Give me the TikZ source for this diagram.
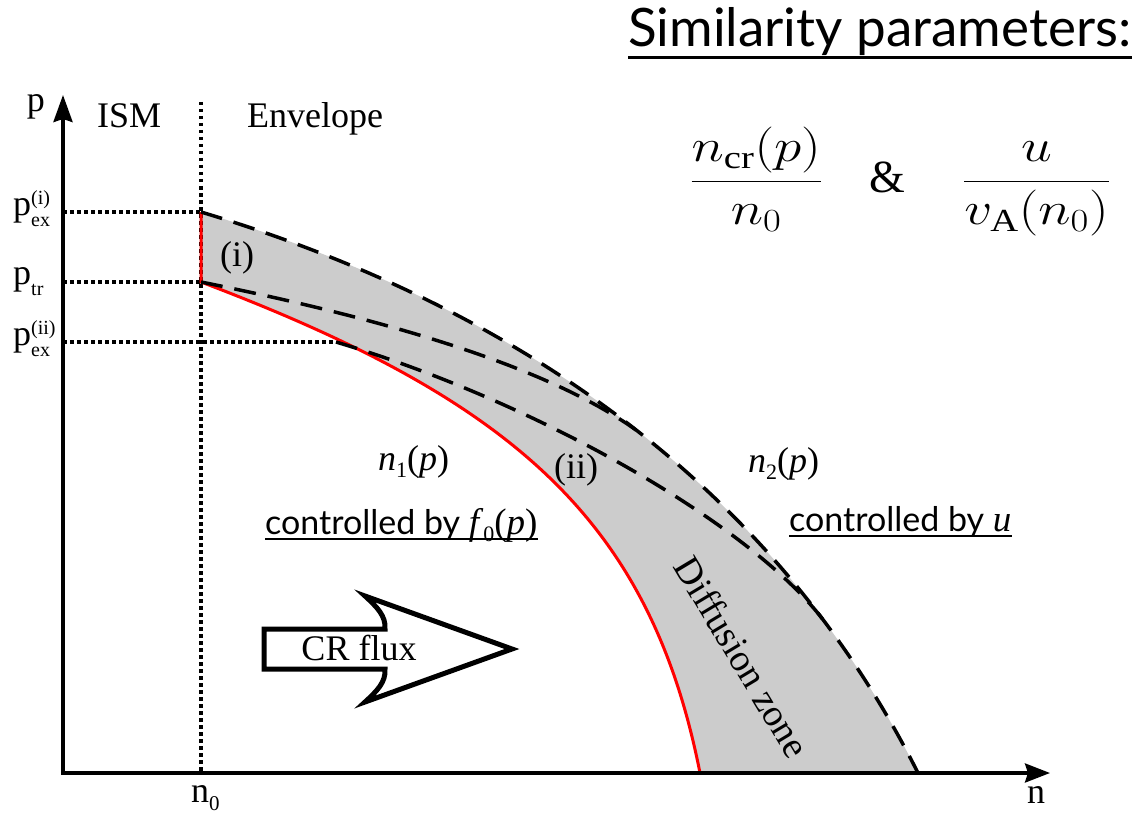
\documentclass[tikz,border=0pt]{standalone}
\usepackage{fix-cm}
\usepackage{amsmath}
\usepackage{graphicx}
\usepackage{fontspec}
\setmainfont{Liberation Serif}
\newfontfamily\optfont{Lato}
\usetikzlibrary{arrows.meta}
\definecolor{zonegray}{HTML}{CCCCCC}
\newcommand\smallfs{\fontsize{20}{20}\selectfont}
\newcommand\plab[2]{p\makebox[0pt][l]{\raisebox{11pt}{\smallfs #1}}\raisebox{-11pt}{\smallfs #2}}
\newcommand\lowsub[1]{\raisebox{-7pt}{\fontsize{22}{22}\selectfont #1}}
\tikzset{
  axisline/.style={line width=3.5pt, line join=miter},
  dotline/.style={line width=3.5pt, dash pattern=on 3.5pt off 3.5pt},
  dashline/.style={line width=3.5pt, dash pattern=on 22pt off 12pt},
  redline/.style={line width=3pt, red},
  lbl/.style={font=\fontsize{36}{43}\selectfont, inner sep=0pt},
  ctl/.style={font=\optfont\fontsize{34}{40}\selectfont, inner sep=0pt},
  titlef/.style={font=\optfont\fontsize{53}{60}\selectfont, inner sep=0pt},
  uline/.style={line width=2.7pt}
}
\begin{document}
\begin{tikzpicture}[x=1pt,y=-1pt]
\useasboundingbox (0,0) rectangle (1142,813);
% key points
\coordinate (O) at (63,773);
\coordinate (ytip) at (63,95);
\coordinate (xtip) at (1050,773);
\coordinate (n0top) at (201,102);
\coordinate (n0bot) at (201,773);
\coordinate (Pex1) at (201,212);
\coordinate (Ptr) at (201,282);
\coordinate (Pex2) at (336,342);
\coordinate (Rend) at (700,773);
\coordinate (Oend) at (918,773);
\coordinate (Mjoin) at (636,430);
\coordinate (Ijoin) at (824,621);
\coordinate (Ay1) at (63,212);
\coordinate (Ay2) at (63,282);
\coordinate (Ay3) at (63,342);
% diffusion zone
\fill[zonegray] (Pex1) -- (Ptr) .. controls (513,400) and (650,520) .. (Rend)
  -- (Oend) .. controls (783,504) and (540,314) .. (Pex1) -- cycle;
% dotted guides
\draw[dotline] (n0top) -- (n0bot);
\draw[dotline] (Ay1) -- (Pex1);
\draw[dotline] (Ay2) -- (Ptr);
\draw[dotline] (Ay3) -- (Pex2);
% red boundary
\draw[redline] (Pex1) -- (Ptr) .. controls (513,400) and (650,520) .. (Rend);
% dashed boundaries
\draw[dashline] (Pex1) .. controls (540,314) and (783,504) .. (Oend);
\draw[dashline] (Ptr) .. controls (380,318) and (545,365) .. (Mjoin);
\draw[dashline] (Pex2) .. controls (537,402) and (752,525) .. (Ijoin);
% axes
\draw[axisline, {Stealth[length=27pt,width=19pt,inset=3pt]}-{Stealth[length=25pt,width=19pt,inset=3pt]}] (ytip) -- (O) -- (xtip);
% CR flux arrow
\draw[line width=5pt, fill=white, line join=miter]
  (264,629) -- (385,629) .. controls (386,616) and (377,607) .. (365,596)
  -- (512,649) -- (365,702) .. controls (377,691) and (386,682) .. (385,669)
  -- (264,669) -- cycle;
\node[lbl, anchor=base] (crflux) at (359,660) {CR flux};
% labels
\node[lbl, anchor=base] (plabel) at (36,112) {p};
\node[lbl, anchor=base west] (ism) at (97,128) {ISM};
\node[lbl, anchor=base west] (env) at (247,128) {Envelope};
\node[lbl, anchor=base west] (pex1) at (13,215) {\plab{(i)}{ex}};
\node[lbl, anchor=base west] (ptr) at (13,284) {\plab{}{tr}};
\node[lbl, anchor=base west] (pex2) at (13,345) {\plab{(ii)}{ex}};
\node[lbl, anchor=base west] (n0) at (191,802) {n\raisebox{-8pt}{\fontsize{21}{21}\selectfont 0}};
\node[lbl, anchor=base west] (nlab) at (1027,803) {n};
\node[lbl, anchor=base] (zi) at (237,266) {(i)};
\node[lbl, anchor=base] (zii) at (576,478) {(ii)};
\node[lbl, anchor=base west] (n1) at (378,470) {\textit{n}\lowsub{1}(\textit{p})};
\node[lbl, anchor=base west] (n2) at (748,472) {\textit{n}\lowsub{2}(\textit{p})};
\node[lbl, rotate=-59, font=\fontsize{38}{45}\selectfont] (dz) at (742,657) {Diffusion zone};
% controlled by
\node[ctl, anchor=base west] (c1) at (265,534) {controlled by {\rmfamily\fontsize{37}{43}\selectfont\textit{f}\lowsub{0}(\textit{p})}};
\draw[uline] ([yshift=-5pt]c1.base west) -- ([yshift=-5pt]c1.base east);
\node[ctl, anchor=base west] (c2) at (789,531) {controlled by {\rmfamily\fontsize{37}{43}\selectfont\textit{u}}};
\draw[uline] ([yshift=-5pt]c2.base west) -- ([yshift=-5pt]c2.base east);
% title
\node[titlef, anchor=base west] (title) at (628,47) {Similarity parameters:};
\draw[line width=3pt] ([yshift=-11pt]title.base west) -- ([yshift=-11pt]title.base east);
% similarity parameters
\node[anchor=base west, inner sep=0pt, font=\fontsize{46}{55}\selectfont] (sim) at (690,193)
  {\scalebox{1.2}[1]{$\dfrac{n_{\mathrm{cr}}(p)}{n_0}\hspace{0.85em}\scalebox{0.833}[1]{$\&$}\hspace{1.05em}\dfrac{u}{v_{\mathrm{A}}(n_0)}$}};
\end{tikzpicture}
\end{document}
